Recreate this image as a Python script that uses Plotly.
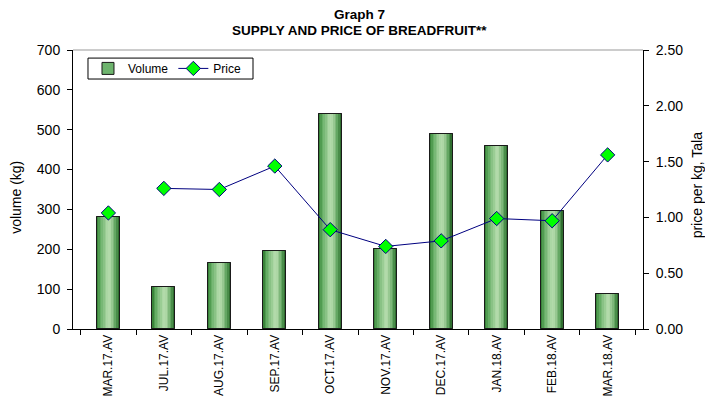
import plotly.graph_objects as go

categories = ["MAR.17.AV", "JUL.17.AV", "AUG.17.AV", "SEP.17.AV", "OCT.17.AV",
              "NOV.17.AV", "DEC.17.AV", "JAN.18.AV", "FEB.18.AV", "MAR.18.AV"]
volume = [280, 105, 165, 196, 540, 200, 490, 460, 295, 89]
price = [1.04, 1.26, 1.25, 1.46, 0.89, 0.74, 0.79, 0.99, 0.97, 1.56]
# first price point is not joined to the rest in the original
price_connected_from = 1

FONT = "Liberation Sans, Arial, sans-serif"
BAR_W = 0.41

# horizontal gradient stops (position, rgb)
stops = [(0.0, (45, 120, 45)), (0.15, (95, 170, 95)), (0.5, (180, 220, 172)),
         (0.62, (172, 214, 164)), (0.85, (90, 160, 90)), (1.0, (35, 95, 35))]

def grad(t):
    for (p0, c0), (p1, c1) in zip(stops[:-1], stops[1:]):
        if p0 <= t <= p1:
            f = (t - p0) / (p1 - p0) if p1 > p0 else 0
            c = [round(a + (b - a) * f) for a, b in zip(c0, c1)]
            return "rgb(%d,%d,%d)" % tuple(c)
    return "rgb(%d,%d,%d)" % stops[-1][1]

fig = go.Figure()
fig.add_trace(go.Bar(x=categories, y=volume, name="Volume", width=BAR_W,
                     marker=dict(color="rgb(110,180,110)", line=dict(color="#1a1a1a", width=1)),
                     showlegend=True))
N = 14
sw = BAR_W / N
for i in range(N):
    fig.add_trace(go.Bar(x=categories, y=volume, width=sw * 1.08, offset=-BAR_W / 2 + i * sw,
                         marker=dict(color=grad((i + 0.5) / N), line=dict(width=0)),
                         showlegend=False, hoverinfo="skip"))
fig.add_trace(go.Bar(x=categories, y=volume, width=BAR_W,
                     marker=dict(color="rgba(0,0,0,0)", line=dict(color="#1a1a1a", width=1)),
                     showlegend=False, hoverinfo="skip"))

mk = dict(symbol="diamond", size=11, color="#00ff00", line=dict(color="#000080", width=1))
fig.add_trace(go.Scatter(x=categories[price_connected_from:], y=price[price_connected_from:],
                         mode="lines+markers", name="Price", yaxis="y2",
                         line=dict(color="#000080", width=1), marker=mk))
fig.add_trace(go.Scatter(x=categories[:price_connected_from], y=price[:price_connected_from],
                         mode="markers", yaxis="y2", showlegend=False, marker=mk))

fig.update_layout(
    width=705, height=409,
    margin=dict(l=73, r=62, t=50, b=80, autoexpand=False),
    paper_bgcolor="white", plot_bgcolor="white",
    barmode="overlay", bargap=0,
    font=dict(family=FONT, size=12, color="black"),
    xaxis=dict(showline=True, linecolor="black", linewidth=1, ticks="outside",
               tickson="boundaries", ticklen=5, tickcolor="black", tickangle=-90,
               tickfont=dict(size=12), showgrid=False, automargin=False),
    yaxis=dict(range=[0, 700], dtick=100, showline=True, linecolor="black",
               linewidth=1, ticks="outside", ticklen=5, tickcolor="black",
               showgrid=False, zeroline=False, tickfont=dict(size=14), automargin=False,
               ticklabelstandoff=4),
    yaxis2=dict(range=[0, 2.5], dtick=0.5, tickformat=".2f", overlaying="y",
                side="right", showline=True, linecolor="black", linewidth=1,
                ticks="outside", ticklen=5, tickcolor="black", showgrid=False,
                zeroline=False, tickfont=dict(size=14), automargin=False,
                ticklabelstandoff=4),
    legend=dict(orientation="h", x=0.0263, y=0.934, xanchor="left", yanchor="middle",
                borderwidth=0, bgcolor="rgba(0,0,0,0)",
                font=dict(size=12), itemwidth=30, tracegroupgap=0),
    annotations=[
        dict(text="<b>Graph 7</b>", xref="paper", yref="paper", x=0.503, y=1,
             yshift=36, xanchor="center", yanchor="middle", showarrow=False,
             font=dict(size=13.5)),
        dict(text="<b>SUPPLY AND PRICE OF BREADFRUIT**</b>", xref="paper", yref="paper",
             x=0.503, y=1, yshift=20, xanchor="center", yanchor="middle",
             showarrow=False, font=dict(size=13.5)),
        dict(text="volume (kg)", xref="paper", yref="paper", x=-0.1, y=0.47,
             xanchor="center", yanchor="middle", textangle=-90, showarrow=False,
             font=dict(size=14)),
        dict(text="price per kg, Tala", xref="paper", yref="paper", x=1.094, y=0.517,
             xanchor="center", yanchor="middle", textangle=-90, showarrow=False,
             font=dict(size=14)),
    ],
    shapes=[
        dict(type="line", xref="paper", yref="paper", x0=0, x1=1, y0=1, y1=1,
             line=dict(color="#999999", width=1)),
        dict(type="rect", xref="paper", yref="paper", x0=0.0263, x1=0.3158,
             y0=0.896, y1=0.971, line=dict(color="black", width=1),
             fillcolor="white", layer="below"),
    ],
)

fig.write_html("out.html", config={"displayModeBar": False},
               post_script="document.body.style.margin='0';")
